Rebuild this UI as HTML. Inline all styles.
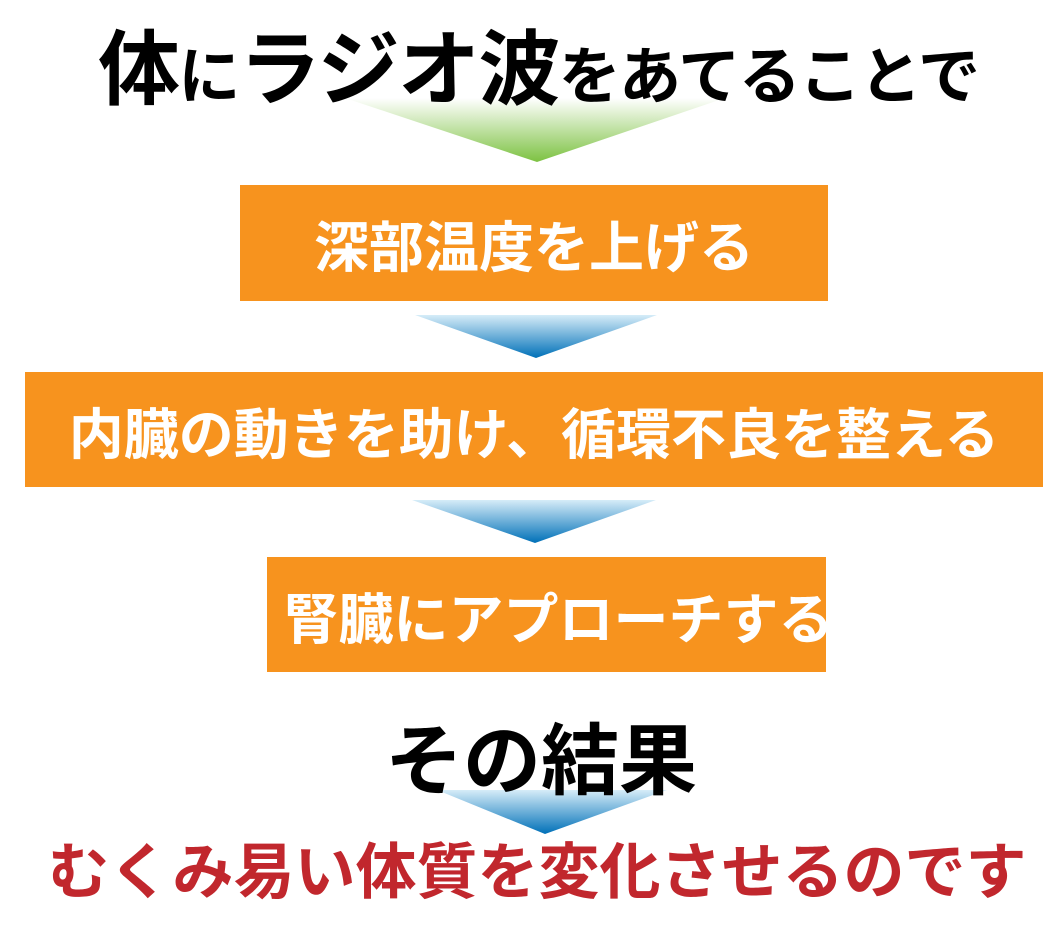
<!DOCTYPE html>
<html><head><meta charset="utf-8"><style>
html,body{margin:0;padding:0;background:#fff;width:1063px;height:945px;overflow:hidden;position:relative;font-family:"Liberation Sans","Noto Sans CJK JP",sans-serif;font-weight:bold}
.t{position:absolute;white-space:nowrap;line-height:1}
.box{position:absolute;background:#f7931e;color:#fff;display:flex;align-items:center;justify-content:center;font-size:55px;font-weight:bold;white-space:nowrap}
svg{position:absolute;left:0;top:0}
</style></head><body>
<svg width="1063" height="945">
<defs>
<linearGradient id="g" x1="0" y1="0" x2="0" y2="1"><stop offset="0" stop-color="#fff"/><stop offset="1" stop-color="#7dc242"/></linearGradient>
<linearGradient id="b" x1="0" y1="0" x2="0" y2="1"><stop offset="0" stop-color="#d6ecf8"/><stop offset="1" stop-color="#0070b8"/></linearGradient>
</defs>
<polygon points="345,98 725,98 537,162" fill="url(#g)"/>
<polygon points="415,315 657,315 536,358" fill="url(#b)"/>
<polygon points="412,500 656,500 535,543" fill="url(#b)"/>
<polygon points="437,790 667,790 545,834" fill="url(#b)"/>
</svg>
<div class="t" style="left:98px;top:30px;color:#000;letter-spacing:-1.6px"><span style="font-size:82px">体</span><span style="font-size:62px">に</span><span style="font-size:82px">ラジオ波</span><span style="font-size:62px">をあてることで</span></div>
<div class="box" style="left:240px;top:185px;width:588px;height:116px">深部温度を上げる</div>
<div class="box" style="left:25px;top:372px;width:1018px;height:115px">内臓の動きを助け、循環不良を整える</div>
<div class="box" style="left:267px;top:557px;width:559px;height:115px;padding-left:24px;box-sizing:border-box">腎臓にアプローチする</div>
<div class="t" style="left:385px;top:722px;font-size:78px;color:#000">その結果</div>
<div class="t" style="left:48px;top:842px;font-size:61px;color:#c1272d">むくみ易い体質を変化させるのです</div>
</body></html>
